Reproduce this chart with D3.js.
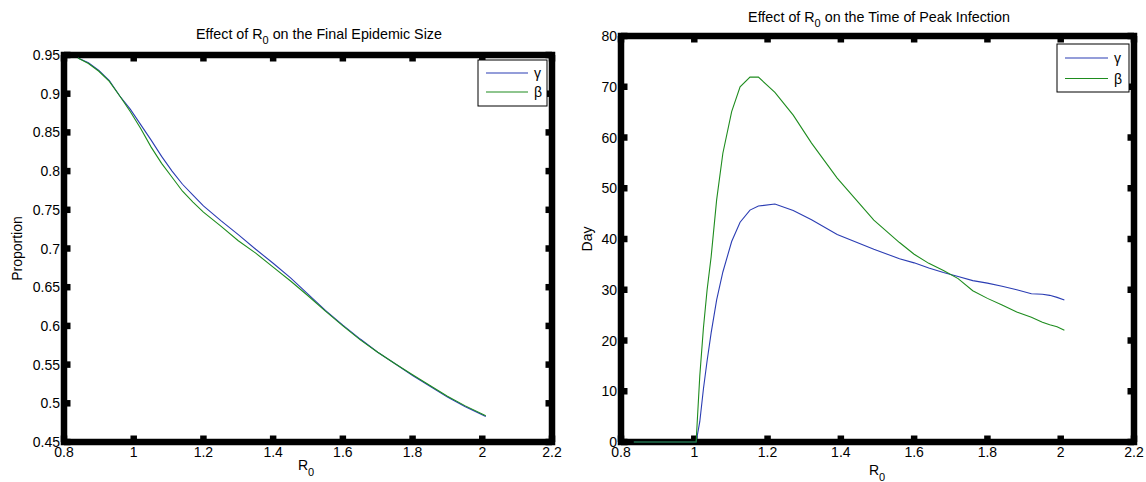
<!DOCTYPE html>
<html>
<head>
<meta charset="utf-8">
<script src="https://cdn.jsdelivr.net/npm/d3@7"></script>
<style>
  html, body { margin: 0; padding: 0; background: #fff; }
  svg { display: block; }
  text { font-family: "Liberation Sans", Arial, Helvetica, sans-serif; fill: #000; }
</style>
</head>
<body>
<svg id="fig" width="1146" height="482"></svg>
<script>
// Final epidemic size versus R0 (R0 changed through gamma or through beta)
const r0Size    = [0.84, 0.87, 0.90, 0.93, 0.96, 0.99, 1.02, 1.05, 1.08, 1.11, 1.14, 1.17, 1.20, 1.25, 1.30,
                   1.35, 1.40, 1.45, 1.50, 1.55, 1.60, 1.65, 1.70, 1.75, 1.80, 1.85, 1.90, 1.95, 2.01];
const gammaSize = [0.946, 0.940, 0.930, 0.917, 0.897, 0.880, 0.860, 0.840, 0.819, 0.800, 0.783, 0.769, 0.755, 0.736, 0.718,
                   0.699, 0.681, 0.662, 0.641, 0.620, 0.601, 0.583, 0.566, 0.551, 0.536, 0.522, 0.508, 0.496, 0.483];
const betaSize  = [0.946, 0.939, 0.929, 0.916, 0.897, 0.877, 0.855, 0.831, 0.810, 0.792, 0.774, 0.760, 0.747, 0.729, 0.710,
                   0.694, 0.676, 0.658, 0.639, 0.619, 0.600, 0.582, 0.566, 0.551, 0.537, 0.523, 0.509, 0.497, 0.484];

// Day of peak infection versus R0
const r0Peak    = [0.835, 1.005, 1.015, 1.025, 1.035, 1.046, 1.061, 1.078, 1.102, 1.125, 1.152, 1.175, 1.220, 1.270, 1.320,
                   1.390, 1.490, 1.560, 1.600, 1.640, 1.680, 1.720, 1.760, 1.800, 1.840, 1.880, 1.920, 1.950, 1.970, 1.990, 2.010];
const gammaPeak = [0, 0, 4, 10.5, 16, 21.5, 28, 33.5, 39.5, 43.3, 45.7, 46.5, 46.9, 45.6, 43.8,
                   40.9, 38.0, 36.1, 35.3, 34.3, 33.4, 32.6, 31.8, 31.3, 30.7, 30.0, 29.2, 29.1, 28.9, 28.5, 28.0];
const betaPeak  = [0, 0, 13, 22.5, 30, 36.5, 47.7, 56.9, 65.1, 70.0, 71.9, 71.9, 68.9, 64.4, 58.9,
                   52.0, 43.7, 39.3, 37.0, 35.2, 33.8, 32.2, 29.8, 28.3, 27.0, 25.6, 24.6, 23.6, 23.1, 22.7, 22.0];

// Tick values
const r0Ticks   = [0.8, 1, 1.2, 1.4, 1.6, 1.8, 2, 2.2];
const sizeTicks = [0.45, 0.5, 0.55, 0.6, 0.65, 0.7, 0.75, 0.8, 0.85, 0.9, 0.95];
const peakTicks = [0, 10, 20, 30, 40, 50, 60, 70, 80];

const seriesNames = ["\u03b3", "\u03b2"];
const seriesColors = ["#2b3db3", "#1e8c1e"];

const svg = d3.select("#fig");

function drawPanel(opt) {
  const x = d3.scaleLinear().domain([0.8, 2.2]).range([opt.left, opt.right]);
  const y = d3.scaleLinear().domain(opt.yDomain).range([opt.bottom, opt.top]);
  const g = svg.append("g");
  const frameW = 6.5, tickLen = 6.5;

  // heavy box frame
  g.append("rect")
    .attr("x", opt.left).attr("y", opt.top)
    .attr("width", opt.right - opt.left).attr("height", opt.bottom - opt.top)
    .attr("fill", "none").attr("stroke", "#000")
    .attr("stroke-width", frameW).attr("stroke-linejoin", "miter");

  // inward ticks on all four sides
  const ticks = g.append("g").attr("stroke", "#000").attr("stroke-width", frameW);
  r0Ticks.forEach(t => {
    ticks.append("line").attr("x1", x(t)).attr("x2", x(t)).attr("y1", opt.bottom).attr("y2", opt.bottom - tickLen);
    ticks.append("line").attr("x1", x(t)).attr("x2", x(t)).attr("y1", opt.top).attr("y2", opt.top + tickLen);
  });
  opt.yTicks.forEach(t => {
    ticks.append("line").attr("y1", y(t)).attr("y2", y(t)).attr("x1", opt.left).attr("x2", opt.left + tickLen);
    ticks.append("line").attr("y1", y(t)).attr("y2", y(t)).attr("x1", opt.right).attr("x2", opt.right - tickLen);
  });

  // data lines, drawn over the frame so the zero stretch stays visible
  const line = d3.line().x(d => x(d[0])).y(d => y(d[1]));
  opt.series.forEach((vals, i) => {
    g.append("path")
      .datum(opt.xs.map((r, k) => [r, vals[k]]))
      .attr("d", line)
      .attr("fill", "none")
      .attr("stroke", seriesColors[i])
      .attr("stroke-width", 1.1);
  });

  // tick labels
  const fs = 14;
  r0Ticks.forEach(t => {
    g.append("text").attr("x", x(t)).attr("y", opt.bottom + 15)
      .attr("text-anchor", "middle").attr("font-size", fs).text(String(t));
  });
  opt.yTicks.forEach(t => {
    g.append("text").attr("x", opt.left - 4).attr("y", y(t)).attr("dy", "0.36em")
      .attr("text-anchor", "end").attr("font-size", fs).text(String(t));
  });

  // title with subscript
  const title = g.append("text").attr("x", opt.titleX).attr("y", opt.titleY)
    .attr("text-anchor", "middle").attr("font-size", 14.3);
  title.append("tspan").text("Effect of R");
  title.append("tspan").attr("dy", 5).attr("font-size", 11).text("0");
  title.append("tspan").attr("dy", -5).text(" " + opt.titleRest);

  // x-axis label
  const xl = g.append("text").attr("x", opt.xLabelX).attr("y", opt.xLabelY)
    .attr("text-anchor", "middle").attr("font-size", 14);
  xl.append("tspan").text("R");
  xl.append("tspan").attr("dy", 6).attr("font-size", 11).text("0");

  // y-axis label
  g.append("text")
    .attr("transform", `translate(${opt.yLabelX},${(opt.top + opt.bottom) / 2}) rotate(-90)`)
    .attr("text-anchor", "middle").attr("font-size", 14).text(opt.yLabel);

  // legend
  const L = opt.legend;
  const lg = g.append("g");
  lg.append("rect").attr("x", L.x).attr("y", L.y).attr("width", L.w).attr("height", L.h)
    .attr("fill", "#fff").attr("stroke", "#000").attr("stroke-width", 1);
  seriesNames.forEach((name, i) => {
    const yy = L.y + L.row0 + i * L.dy;
    lg.append("line").attr("x1", L.x + 8).attr("x2", L.x + 8 + L.lineLen)
      .attr("y1", yy).attr("y2", yy).attr("stroke", seriesColors[i]).attr("stroke-width", 1.1);
    lg.append("text").attr("x", L.x + 14 + L.lineLen).attr("y", yy).attr("dy", "0.36em")
      .attr("font-size", 14).text(name);
  });
}

drawPanel({
  left: 64, right: 552, top: 55, bottom: 442,
  yDomain: [0.45, 0.95], yTicks: sizeTicks,
  xs: r0Size, series: [gammaSize, betaSize],
  titleX: 319, titleY: 39, titleRest: "on the Final Epidemic Size",
  xLabelX: 306, xLabelY: 470,
  yLabel: "Proportion", yLabelX: 22,
  legend: { x: 478, y: 60, w: 69, h: 46, row0: 13, dy: 19, lineLen: 42 }
});

drawPanel({
  left: 621, right: 1134, top: 36, bottom: 442,
  yDomain: [0, 80], yTicks: peakTicks,
  xs: r0Peak, series: [gammaPeak, betaPeak],
  titleX: 879, titleY: 22, titleRest: "on the Time of Peak Infection",
  xLabelX: 877, xLabelY: 475,
  yLabel: "Day", yLabelX: 592,
  legend: { x: 1057, y: 44, w: 72, h: 48, row0: 14, dy: 20.5, lineLen: 43 }
});
</script>
</body>
</html>
